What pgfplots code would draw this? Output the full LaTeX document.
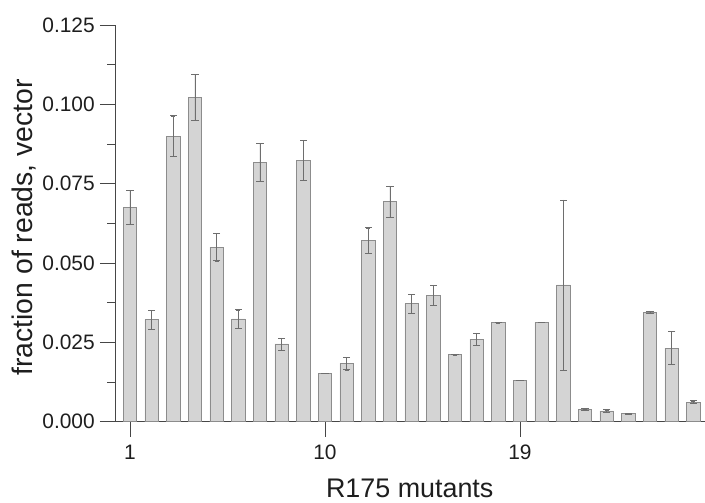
\documentclass[border=0pt]{standalone}
\usepackage{pgfplots}
\usepackage{pgfplotstable}
\pgfplotsset{compat=1.18}
\usepackage{fontspec}
\setmainfont{Liberation Sans}
\definecolor{barfill}{RGB}{212,212,212}
\definecolor{baredge}{RGB}{140,140,140}
\definecolor{errc}{RGB}{110,110,110}
\definecolor{axc}{RGB}{70,70,70}
\definecolor{txt}{RGB}{30,30,30}
\pgfplotstableread{
x y e
1 0.0676 0.0053
2 0.0322 0.0030
3 0.0900 0.0064
4 0.1022 0.0072
5 0.0550 0.0043
6 0.0324 0.0029
7 0.0817 0.0060
8 0.0245 0.0019
9 0.0824 0.0062
10 0.0152 0.0000
11 0.0184 0.0020
12 0.0571 0.0040
13 0.0694 0.0049
14 0.0372 0.0030
15 0.0399 0.0032
16 0.0211 0.0000
17 0.0260 0.0020
18 0.0312 0.0000
19 0.0131 0.0000
20 0.0313 0.0000
21 0.0431 0.0268
22 0.0038 0.0003
23 0.0034 0.0004
24 0.0025 0.0002
25 0.0345 0.0004
26 0.0232 0.0052
27 0.0062 0.0004
}\data
\begin{document}
\begin{tikzpicture}
\begin{axis}[
  name=ax,
  scale only axis,
  width=590bp, height=397bp,
  xmin=0.308, xmax=27.52,
  ymin=0, ymax=0.125,
  axis lines*=left,
  axis line style={axc, line width=0.8pt},
  tick align=outside,
  major tick length=15bp,
  minor tick length=7.5bp,
  every tick/.style={axc, line width=0.8pt},
  xtick={1,10,19},
  ytick={0,0.025,0.05,0.075,0.1,0.125},
  minor ytick={0.0125,0.0375,0.0625,0.0875,0.1125},
  yticklabel style={/pgf/number format/.cd, fixed, fixed zerofill, precision=3, /tikz/.cd},
  /pgf/number format/assume math mode=true,
  tick label style={font=\fontsize{21}{21}\selectfont, text=txt},
  yticklabel style={inner sep=0pt, anchor=east, xshift=-5bp},
  xticklabel style={inner sep=0pt, anchor=north, yshift=-8bp},
  xlabel={R175 mutants},
  ylabel={fraction of reads, vector},
  xlabel style={font=\fontsize{27}{27}\selectfont, text=txt, at={(axis description cs:0.5,0)}, anchor=base, yshift=-76bp, inner sep=0pt},
  ylabel style={font=\fontsize{28.5}{28.5}\selectfont, text=txt, at={(axis description cs:-0.134,0.49)}, anchor=south, rotate=0, inner sep=0pt},
  clip=false,
]
\addplot[ybar, bar width=13.4bp, fill=barfill, draw=baredge, line width=0.8pt,
  error bars/.cd, y dir=both, y explicit,
  error bar style={errc, line width=0.7pt}]
table[x=x, y=y, y error=e] {\data};
\addplot[only marks, mark=-, mark size=3.6bp, mark options={errc, line width=0.7pt}]
table[x=x, y expr=\thisrow{y}+\thisrow{e}] {\data};
\addplot[only marks, mark=-, mark size=3.6bp, mark options={errc, line width=0.7pt}]
table[x=x, y expr=\thisrow{y}-\thisrow{e}] {\data};
\end{axis}
\path ([shift={(-115bp,-81bp)}]ax.south west) rectangle ([shift={(0bp,25bp)}]ax.north east);
\end{tikzpicture}
\end{document}
